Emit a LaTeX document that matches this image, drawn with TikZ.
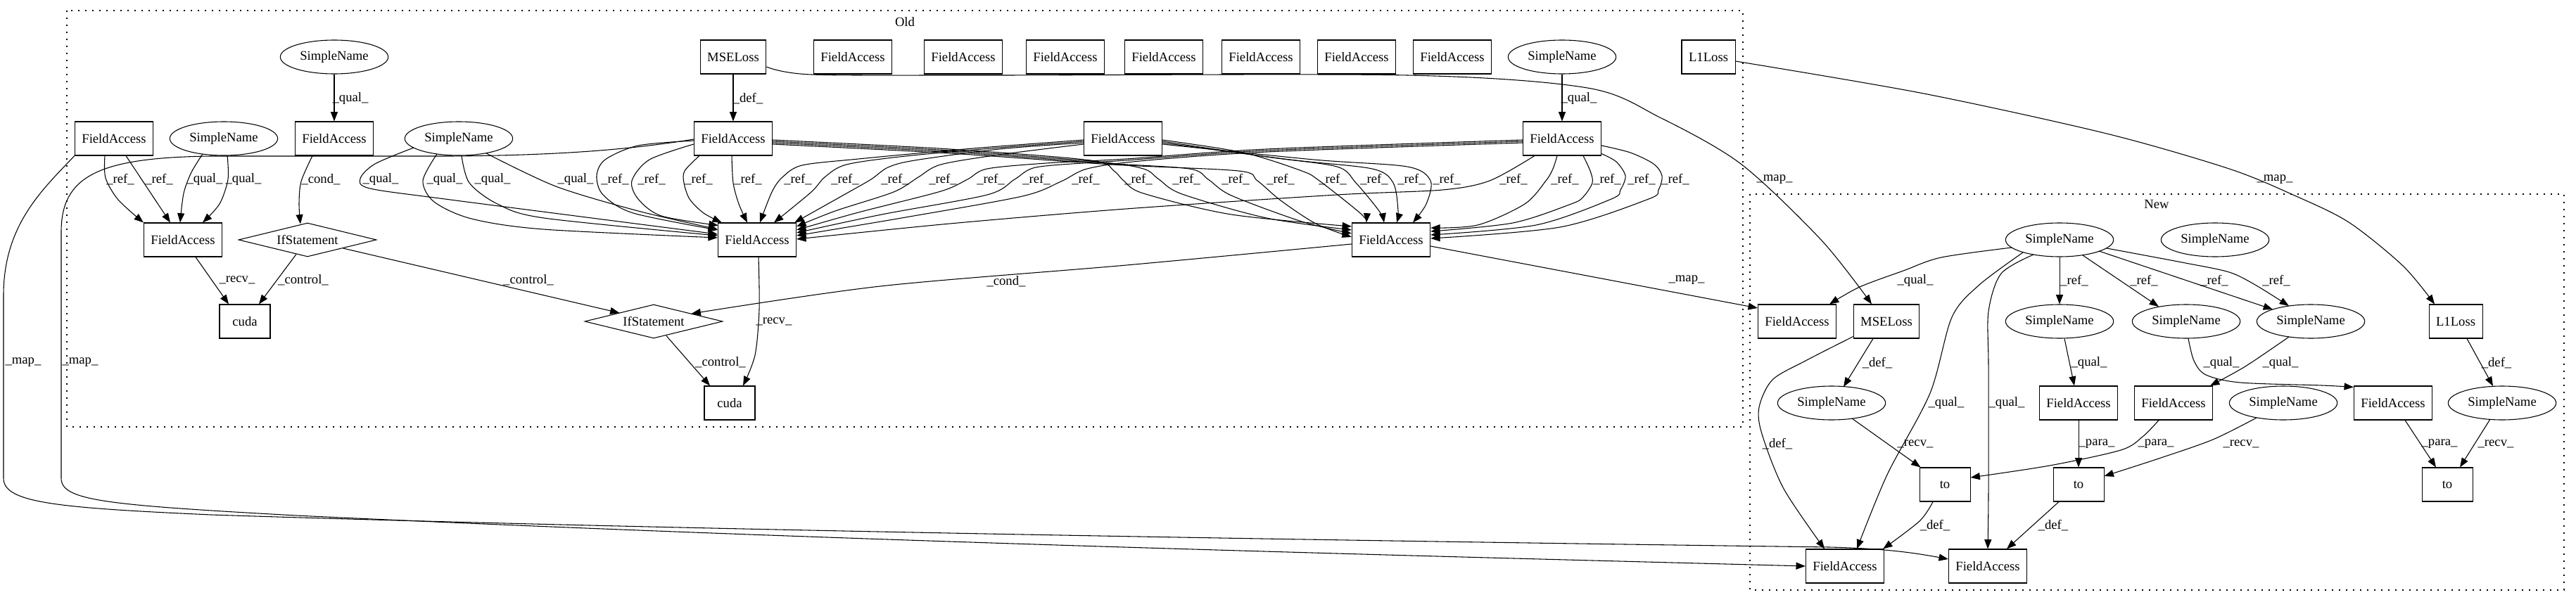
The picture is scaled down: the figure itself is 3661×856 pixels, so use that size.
\documentclass[tikz,border=0pt]{standalone}
\usepackage{fontspec}
\setmainfont{Liberation Serif}
\usetikzlibrary{shapes.geometric,arrows.meta,calc}
\tikzset{
 base/.style={font=\fontsize{14pt}{16pt}\selectfont, line width=0.8pt},
 box/.style={base, draw, rectangle, minimum width=54pt, minimum height=36pt, inner xsep=7.5pt, inner ysep=0pt},
 fa/.style={box, minimum width=83pt},
 ell/.style={base, draw, ellipse, minimum width=115pt, minimum height=36pt, inner sep=0pt},
 dia/.style={base, draw, diamond, aspect=4, minimum width=147pt, minimum height=36pt, inner sep=0pt},
 edge/.style={line width=0.8pt, -{Triangle[length=10pt,width=7.5pt]}},
 lbl/.style={font=\fontsize{14pt}{16pt}\selectfont, inner sep=0pt},
 clus/.style={line width=1pt, dash pattern=on 1.2pt off 6.3pt},
}
\newcommand\EL[3]{\draw[edge] plot[smooth,tension=0.5] coordinates {#1}; \node[lbl] at #2 {#3};}
\begin{document}
\begin{tikzpicture}[x=0.75pt,y=-0.75pt]
\useasboundingbox (0,0) rectangle (3661,856);
% clusters
\draw[clus] (95,15) rectangle (2477,607);
\node[lbl] (oldlbl) at (1286,31) {Old};
\draw[clus] (2487,276) rectangle (3644,839);
\node[lbl] (newlbl) at (3065,290) {New};
% Old nodes
\node[ell] (osnA) at (475,81) {SimpleName};
\node[box] (omse) at (1042,81) {MSELoss};
\node[fa] (oi1) at (1212,81) {FieldAccess};
\node[fa] (oi2) at (1369,81) {FieldAccess};
\node[fa] (oi3) at (1514,81) {FieldAccess};
\node[fa] (oi4) at (1654,81) {FieldAccess};
\node[fa] (oi5) at (1792,81) {FieldAccess};
\node[fa] (oi6) at (1928,81) {FieldAccess};
\node[fa] (oi7) at (2064,81) {FieldAccess};
\node[ell] (osnB) at (2220,81) {SimpleName};
\node[box] (ol1) at (2428,81) {L1Loss};
\node[fa] (ofa1) at (162,197) {FieldAccess};
\node[ell] (osn3) at (318,197) {SimpleName};
\node[fa] (ofa2) at (475,197) {FieldAccess};
\node[ell] (osn4) at (652,197) {SimpleName};
\node[fa] (oF2) at (1042,197) {FieldAccess};
\node[fa] (oF3) at (1596,197) {FieldAccess};
\node[fa] (oF4) at (2220,197) {FieldAccess};
\node[fa] (ofa3) at (260,341) {FieldAccess};
\node[dia] (oif1) at (437,341) {IfStatement};
\node[fa] (oT1) at (1076,341) {FieldAccess};
\node[fa] (oT2) at (1977,341) {FieldAccess};
\node[box] (ocuda1) at (348,457) {cuda};
\node[dia] (oif2) at (929,457) {IfStatement};
\node[box] (ocuda2) at (1037,573) {cuda};
% New nodes
\node[ell] (nsn1) at (2927,341) {SimpleName};
\node[ell] (nsn2) at (3148,341) {SimpleName};
\node[fa] (nfa1) at (2554,457) {FieldAccess};
\node[box] (nmse) at (2681,457) {MSELoss};
\node[ell] (nsn3) at (2927,457) {SimpleName};
\node[ell] (nsn4) at (3107,457) {SimpleName};
\node[ell] (nsn5) at (3284,457) {SimpleName};
\node[box] (nl1) at (3490,457) {L1Loss};
\node[ell] (nsn6) at (2603,573) {SimpleName};
\node[fa] (nfa2) at (2954,573) {FieldAccess};
\node[fa] (nfa3) at (3089,573) {FieldAccess};
\node[ell] (nsn7) at (3245,573) {SimpleName};
\node[fa] (nfa4) at (3401,573) {FieldAccess};
\node[ell] (nsn8) at (3556,573) {SimpleName};
\node[box] (nto1) at (2764,689) {to};
\node[box] (nto2) at (2954,689) {to};
\node[box] (nto3) at (3478,689) {to};
\node[fa] (nfa5) at (2622,805) {FieldAccess};
\node[fa] (nfa6) at (2825,805) {FieldAccess};
% ---------- Old edges
\EL{(osnA.south) (ofa2.north)}{(498,140)}{\_qual\_}
\EL{(omse.south) (oF2.north)}{(1063,140)}{\_def\_}
\EL{(osnB.south) (oF4.north)}{(2244,140)}{\_qual\_}
\EL{($(ofa1.south)+(-13,0)$) (150,253) (168,284) (ofa3.north west)}{(171,255)}{\_ref\_}
\EL{($(ofa1.south)+(17,0)$) ($(ofa3.north)+(-18,0)$)}{(226,255)}{\_ref\_}
\EL{($(osn3.center)+(-30,22)$) (272,245) (261,275) ($(ofa3.north)+(-4,0)$)}{(291,255)}{\_qual\_}
\EL{($(osn3.center)+(5,24)$) (324,255) (312,290) ($(ofa3.north)+(28,0)$)}{(346,255)}{\_qual\_}
\EL{($(ofa2.south)+(-31,0)$) (428,258) (425,290) ($(oif1.north)+(-10,2)$)}{(456,255)}{\_cond\_}
\EL{($(ofa3.south)+(18,0)$) ($(ocuda1.north)+(-23,0)$)}{(337,398)}{\_recv\_}
\EL{($(oif1.south)+(-16,-4)$) ($(ocuda1.north)+(20,0)$)}{(431,398)}{\_control\_}
\EL{($(oif1.east)+(-48,12)$) ($(oif2.west)+(50,-12)$)}{(751,398)}{\_control\_}
\EL{($(oT1.south)+(2,0)$) (1079,440) (1073,505) ($(ocuda2.north)+(19,0)$)}{(1100,457)}{\_recv\_}
\EL{($(oif2.south)+(18,-4)$) ($(ocuda2.north)+(-28,0)$)}{(1024,515)}{\_control\_}
\EL{($(oT2.west)+(0,6)$) (1601,377) (1251,407) ($(oif2.east)+(-45,-11)$)}{(1430,400)}{\_cond\_}
% SimpleName -> FieldAccess T1
\EL{($(osn4.center)+(-64,13)$) (533,233) (512,254) (526,268) (640,284) ($(oT1.west)+(0,-8)$)}{(541,255)}{\_qual\_}
\EL{($(osn4.center)+(-31,22)$) (601,257) (617,287) (670,311) (772,326) ($(oT1.west)+(0,-3)$)}{(632,255)}{\_qual\_}
\EL{($(osn4.south)+(4,0)$) (667,260) (707,290) (773,310) ($(oT1.west)+(0,-6)$)}{(700,255)}{\_qual\_}
\EL{($(osn4.center)+(39,21)$) (790,265) (907,300) ($(oT1.west)+(0,-15)$)}{(818,255)}{\_qual\_}
% F2 -> T1
\EL{($(oF2.west)+(0,3)$) (907,207) (860,227) (848,250) (857,277) (900,303) ($(oT1.west)+(0,-14)$)}{(874,255)}{\_ref\_}
\EL{($(oF2.west)+(0,8)$) (923,227) (898,257) (907,283) (940,307) ($(oT1.north west)+(1,4)$)}{(926,255)}{\_ref\_}
\EL{($(oF2.south west)+(8,0)$) (973,243) (972,260) (980,283) (1000,303) ($(oT1.north west)+(6,0)$)}{(993,255)}{\_ref\_}
\EL{($(oF2.south)+(-2,0)$) (1042,260) (1050,290) ($(oT1.north)+(-14,0)$)}{(1063,255)}{\_ref\_}
% F3 -> T1
\EL{($(oF3.west)+(0,2)$) (1420,208) (1337,215) (1220,226) (1140,235) (1112,252) (1097,273) ($(oT1.north)+(4,0)$)}{(1134,255)}{\_ref\_}
\EL{($(oF3.west)+(0,4)$) (1420,210) (1287,222) (1203,234) (1172,252) (1153,273) ($(oT1.north)+(24,0)$)}{(1201,255)}{\_ref\_}
\EL{($(oF3.west)+(0,6)$) (1420,212) (1300,228) (1262,238) (1238,255) (1203,275) ($(oT1.north east)+(-3,0)$)}{(1272,255)}{\_ref\_}
\EL{($(oF3.west)+(0,8)$) (1420,220) (1337,234) (1305,252) (1270,273) (1187,300) ($(oT1.east)+(0,-19)$)}{(1340,255)}{\_ref\_}
% F4 -> T1
\EL{($(oF4.west)+(0,2)$) (1800,212) (1600,226) (1487,232) (1403,240) (1375,255) (1337,272) (1220,302) ($(oT1.east)+(0,-14)$)}{(1408,255)}{\_ref\_}
\EL{($(oF4.west)+(0,4)$) (1800,214) (1600,228) (1553,231) (1472,238) (1442,255) (1403,277) (1253,305) ($(oT1.east)+(0,-10)$)}{(1473,255)}{\_ref\_}
\EL{($(oF4.west)+(0,6)$) (1800,216) (1620,229) (1545,240) (1508,258) (1453,279) (1287,309) ($(oT1.east)+(0,-6)$)}{(1543,255)}{\_ref\_}
\EL{($(oF4.south west)+(17,0)$) (2117,257) (2050,270) (1900,277) (1600,297) (1350,318) ($(oT1.east)+(0,-1)$)}{(2151,255)}{\_ref\_}
% F2 -> T2
\EL{($(oF2.east)+(0,2)$) (1350,212) (1550,228) (1583,243) (1597,257) (1625,275) (1750,305) ($(oT2.west)+(0,-19)$)}{(1618,255)}{\_ref\_}
\EL{($(oF2.east)+(0,4)$) (1350,214) (1560,230) (1625,240) (1647,255) (1680,276) (1800,310) ($(oT2.west)+(0,-14)$)}{(1686,255)}{\_ref\_}
\EL{($(oF2.east)+(0,6)$) (1350,216) (1570,232) (1690,240) (1717,255) (1750,278) (1850,315) ($(oT2.west)+(0,-9)$)}{(1756,255)}{\_ref\_}
\EL{($(oF2.east)+(0,8)$) (1350,218) (1580,234) (1760,243) (1787,257) (1820,285) (1870,318) ($(oT2.west)+(0,-4)$)}{(1820,255)}{\_ref\_}
% F3 -> T2
\EL{($(oF3.east)+(0,2)$) (1767,217) (1850,243) (1875,257) (1933,303) ($(oT2.north west)+(21,0)$)}{(1894,255)}{\_ref\_}
\EL{($(oF3.east)+(0,4)$) (1800,223) (1900,237) (1927,260) (1960,300) ($(oT2.north)+(-10,0)$)}{(1953,255)}{\_ref\_}
\EL{($(oF3.east)+(0,6)$) (1833,227) (1950,240) (1980,260) (1987,300) ($(oT2.north)+(8,0)$)}{(2006,255)}{\_ref\_}
\EL{($(oF3.east)+(0,8)$) (1867,227) (2000,237) (2033,257) (2027,290) ($(oT2.north)+(31,0)$)}{(2056,255)}{\_ref\_}
% F4 -> T2
\EL{($(oF4.south)+(-7,0)$) (2207,240) (2197,257) (2167,290) (2100,320) ($(oT2.east)+(0,-17)$)}{(2224,255)}{\_ref\_}
\EL{($(oF4.south)+(30,0)$) (2260,243) (2263,260) (2250,280) (2233,290) (2150,317) ($(oT2.east)+(0,-12)$)}{(2284,255)}{\_ref\_}
\EL{($(oF4.south east)+(0,-3)$) (2297,230) (2310,250) (2303,270) (2290,283) (2183,320) ($(oT2.east)+(0,-7)$)}{(2333,255)}{\_ref\_}
\EL{($(oF4.east)+(0,10)$) (2317,217) (2350,233) (2362,250) (2357,270) (2343,283) (2217,323) ($(oT2.east)+(0,-2)$)}{(2381,255)}{\_ref\_}
% ---------- map edges
\draw[edge] (ofa1.south west) .. controls (60,270) and (5,320) .. (5,420) -- (5,680) .. controls (5,715) and (80,722) .. (300,732) .. controls (1000,755) and (2000,770) .. (2600,778) .. controls (2680,780) and (2720,786) .. ($(nfa6.west)+(0,-10)$);
\node[lbl] at (33,515) {\_map\_};
\draw[edge] ($(oF2.west)+(0,1)$) .. controls (900,212) and (800,221) .. (640,222) -- (300,222) .. controls (140,224) and (87,250) .. (87,330) -- (87,680) .. controls (87,712) and (150,718) .. (421,733) .. controls (1200,770) and (2000,790) .. (nfa5.west);
\node[lbl] at (114,515) {\_map\_};
\EL{($(omse.east)+(0,14)$) (1153,106) (1400,107) (2000,107) (2256,125) (2359,167) (2474,233) (2589,342) ($(nmse.north)+(-21,0)$)}{(2522,255)}{\_map\_}
\EL{($(ol1.east)+(0,6)$) (2734,133) (2994,190) (3168,240) (3261,278) (3338,316) (3415,378) ($(nl1.north)+(-30,0)$)}{(3233,255)}{\_map\_}
\EL{($(oT2.east)+(0,9)$) ($(nfa1.west)+(0,-19)$)}{(2397,398)}{\_map\_}
% ---------- New edges
\EL{($(nsn1.center)+(-68,11)$) (2759,366) (2705,385) (2643,408) ($(nfa1.north)+(46,0)$)}{(2722,399)}{\_qual\_}
\EL{($(nsn1.center)+(-52,18)$) (2813,405) (2774,451) (2743,559) (2682,675) ($(nfa5.north)+(17,0)$)}{(2766,573)}{\_qual\_}
\EL{($(nsn1.center)+(-37,21)$) (2844,389) (2826,443) (2826,521) (2826,700) (nfa6.north)}{(2852,573)}{\_qual\_}
\EL{(nsn1.south) (nsn3.north)}{(2948,399)}{\_ref\_}
\EL{($(nsn1.center)+(33,22)$) ($(nsn4.center)+(-39,-21)$)}{(3047,399)}{\_ref\_}
\EL{($(nsn1.center)+(56,16)$) ($(nsn5.center)+(-54,-17)$)}{(3147,399)}{\_ref\_}
\EL{($(nsn1.center)+(67,12)$) (3106,374) (3168,387) (3205,405) ($(nsn5.center)+(-31,-22)$)}{(3235,399)}{\_ref\_}
\EL{($(nsn3.south)+(7,0)$) ($(nfa2.north)+(-6,0)$)}{(2969,516)}{\_qual\_}
\EL{($(nsn4.south)+(3,0)$) (3118,513) (3135,533) (3184,544) (3300,548) ($(nfa4.north west)+(0,2)$)}{(3157,516)}{\_qual\_}
\EL{($(nsn5.center)+(-31,22)$) (3191,521) ($(nfa3.north)+(52,0)$)}{(3241,516)}{\_qual\_}
\EL{($(nmse.south)+(-19,0)$) ($(nsn6.center)+(17,-23)$)}{(2668,516)}{\_def\_}
\EL{($(nmse.south west)+(0,-3)$) (2566,513) (2519,540) (2500,579) (2504,617) (2535,695) ($(nfa5.north)+(-29,0)$)}{(2526,631)}{\_def\_}
\EL{($(nsn6.center)+(29,22)$) ($(nto1.north west)+(2,0)$)}{(2722,631)}{\_recv\_}
\EL{($(nto1.south)+(-17,0)$) (2728,741) ($(nfa5.north east)+(-2,0)$)}{(2750,747)}{\_def\_}
\EL{(nfa2.south) (nto2.north)}{(2980,631)}{\_para\_}
\EL{($(nfa3.south)+(-21,0)$) (3045,621) (3014,640) (2913,662) ($(nto1.east)+(0,-10)$)}{(3064,631)}{\_para\_}
\EL{($(nsn7.center)+(-38,21)$) (3145,625) (3068,652) ($(nto2.east)+(0,-12)$)}{(3185,631)}{\_recv\_}
\EL{($(nto2.south)+(-28,0)$) ($(nfa6.north)+(27,0)$)}{(2918,747)}{\_def\_}
\EL{($(nfa4.south)+(17,0)$) ($(nto3.north)+(-16,0)$)}{(3467,631)}{\_para\_}
\EL{($(nsn8.center)+(-17,23)$) ($(nto3.north)+(18,0)$)}{(3547,631)}{\_recv\_}
\EL{($(nl1.south)+(16,0)$) ($(nsn8.center)+(-13,-24)$)}{(3548,516)}{\_def\_}
\end{tikzpicture}
\end{document}
